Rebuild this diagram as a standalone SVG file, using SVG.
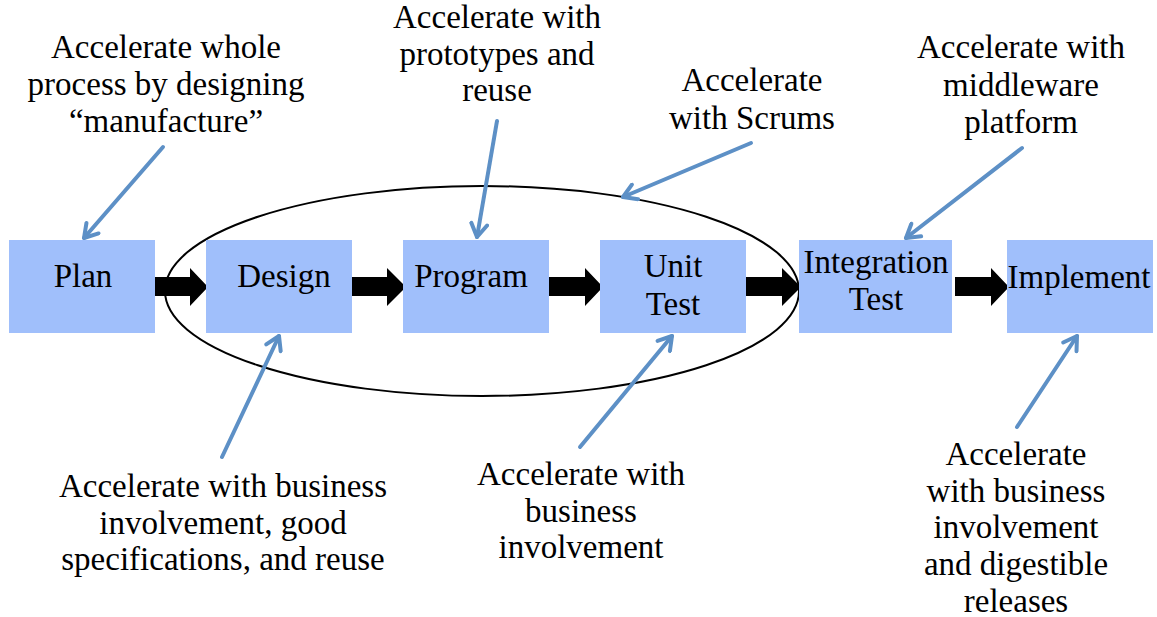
<svg xmlns="http://www.w3.org/2000/svg" width="1157" height="617" viewBox="0 0 1157 617">
<style>
.box{fill:#a0bffb;}
.t{font-family:"Liberation Serif","Times New Roman",serif;font-size:33px;fill:#000;text-anchor:middle;}
.blk{fill:#000;}
.ba{stroke:#5d90c6;stroke-width:4;fill:none;stroke-linecap:round;marker-end:url(#ah);}
.ell{fill:none;stroke:#000;stroke-width:2;}
</style>
<defs>
<marker id="ah" markerUnits="userSpaceOnUse" viewBox="-16 -10 20 20" refX="0" refY="0" markerWidth="20" markerHeight="20" orient="auto">
<path d="M-13,-8 L0,0 L-13,8" fill="none" stroke="#5d90c6" stroke-width="4" stroke-linecap="round" stroke-linejoin="round"/>
</marker>
</defs>
<rect width="1157" height="617" fill="#fff"/>
<g id="connectors">
<ellipse class="ell" cx="482" cy="291" rx="317" ry="105"/>
<path class="blk" d="M153,277 H190 V268 L208,287 L190,306 V296 H153 Z"/>
<path class="blk" d="M350,277 H387 V268 L406,287 L387,306 V296 H350 Z"/>
<path class="blk" d="M548,277 H585 V268 L603,287 L585,306 V296 H548 Z"/>
<path class="blk" d="M745,277 H782 V268 L801,287 L782,306 V296 H745 Z"/>
<path class="blk" d="M955,277 H991 V268 L1009,287 L991,306 V296 H955 Z"/>
<line class="ba" x1="163" y1="147" x2="84" y2="238"/>
<line class="ba" x1="497" y1="121" x2="477" y2="237"/>
<line class="ba" x1="751" y1="143" x2="623" y2="197"/>
<line class="ba" x1="1022" y1="148" x2="906" y2="238"/>
<line class="ba" x1="222" y1="457" x2="279" y2="336"/>
<line class="ba" x1="580" y1="447" x2="672" y2="336"/>
<line class="ba" x1="1017" y1="427" x2="1077" y2="336"/>
</g>
<g id="plan"><rect class="box" x="9" y="240" width="146" height="93"/><text class="t" x="83" y="287">Plan</text></g>
<g id="design"><rect class="box" x="206" y="240" width="146" height="93"/><text class="t" x="284" y="287">Design</text></g>
<g id="program"><rect class="box" x="403" y="240" width="146" height="93"/><text class="t" x="471" y="287">Program</text></g>
<g id="unit-test"><rect class="box" x="600" y="240" width="146" height="93"/><text class="t" x="673" y="277">Unit</text><text class="t" x="673" y="315">Test</text></g>
<g id="integration-test"><rect class="box" x="799" y="240" width="153" height="93"/><text class="t" x="876" y="273">Integration</text><text class="t" x="876" y="310">Test</text></g>
<g id="implement"><rect class="box" x="1007" y="240" width="146" height="93"/><text class="t" x="1079" y="288">Implement</text></g>
<g id="note-plan"><text class="t" x="166" y="58">Accelerate whole</text><text class="t" x="166" y="95">process by designing</text><text class="t" x="166" y="132">“manufacture”</text></g>
<g id="note-program"><text class="t" x="497" y="28">Accelerate with</text><text class="t" x="497" y="65">prototypes and</text><text class="t" x="497" y="101">reuse</text></g>
<g id="note-scrums"><text class="t" x="752" y="91">Accelerate</text><text class="t" x="752" y="129">with Scrums</text></g>
<g id="note-integration"><text class="t" x="1021" y="58">Accelerate with</text><text class="t" x="1021" y="96">middleware</text><text class="t" x="1021" y="133">platform</text></g>
<g id="note-design"><text class="t" x="223" y="497">Accelerate with business</text><text class="t" x="223" y="534">involvement, good</text><text class="t" x="223" y="570">specifications, and reuse</text></g>
<g id="note-unit"><text class="t" x="581" y="485">Accelerate with</text><text class="t" x="581" y="522">business</text><text class="t" x="581" y="558">involvement</text></g>
<g id="note-implement"><text class="t" x="1016" y="465">Accelerate</text><text class="t" x="1016" y="502">with business</text><text class="t" x="1016" y="538">involvement</text><text class="t" x="1016" y="575">and digestible</text><text class="t" x="1016" y="612">releases</text></g>
</svg>
